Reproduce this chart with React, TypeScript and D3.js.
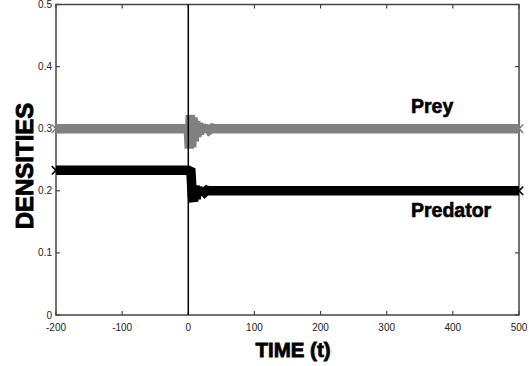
import React from 'react';
import * as d3 from 'd3';

const xTicks = [-200, -100, 0, 100, 200, 300, 400, 500];
const yTicks = [0, 0.1, 0.2, 0.3, 0.4, 0.5];
const yTickLabels = ['0', '0.1', '0.2', '0.3', '0.4', '0.5'];

const preyTime = [-200, 0, 1.5, 3, 5, 7, 9, 11, 13, 15, 17, 19, 21, 23, 26, 29, 32, 36, 40, 500];
const preyValues = [0.3, 0.3, 0.268, 0.322, 0.27, 0.318, 0.28, 0.312, 0.287, 0.309, 0.291, 0.307, 0.294, 0.305, 0.296, 0.303, 0.298, 0.301, 0.3, 0.3];

const predTime = [-200, 0, 4, 6, 8, 10, 12, 14, 16, 18, 20, 22, 25, 28, 32, 500];
const predValues = [0.233, 0.233, 0.231, 0.19, 0.183, 0.208, 0.187, 0.206, 0.193, 0.204, 0.196, 0.202, 0.198, 0.201, 0.2, 0.2];

const W = 529;
const H = 366;
const left = 56;
const right = 519;
const top = 4.5;
const bottom = 315;

export default function App() {
  const x = d3.scaleLinear().domain([-200, 500]).range([left, right]);
  const y = d3.scaleLinear().domain([0, 0.5]).range([bottom, top]);
  const line = d3.line<[number, number]>().x(d => x(d[0])).y(d => y(d[1]));

  const preyData: [number, number][] = preyTime.map((t, i) => [t, preyValues[i]]);
  const predData: [number, number][] = predTime.map((t, i) => [t, predValues[i]]);

  const marker = (d: [number, number], color: string, key: string) => {
    const cx = x(d[0]);
    const cy = y(d[1]);
    const s = 4.2;
    return (
      <path key={key} d={`M${cx - s},${cy - s}L${cx + s},${cy + s}M${cx - s},${cy + s}L${cx + s},${cy - s}`}
        stroke={color} strokeWidth={1.6} fill="none" />
    );
  };

  const ends = (data: [number, number][]) => [data[0], data[data.length - 1]];

  const axisColor = '#444';
  const font = '"Liberation Sans", Arial, Helvetica, sans-serif';

  return (
    <svg width={W} height={H} style={{ position: 'absolute', left: 0, top: 0, background: '#fff' }}>
      <rect x={0} y={0} width={W} height={H} fill="#fff" />
      {/* frame */}
      <rect x={left} y={top} width={right - left} height={bottom - top} fill="none" stroke={axisColor} strokeWidth={1.5} />
      {/* ticks */}
      {xTicks.map(t => (
        <g key={'xt' + t}>
          <line x1={x(t)} x2={x(t)} y1={bottom} y2={bottom - 4} stroke={axisColor} strokeWidth={1.2} />
          <line x1={x(t)} x2={x(t)} y1={top} y2={top + 4} stroke={axisColor} strokeWidth={1.2} />
          <text x={x(t)} y={bottom + 15.5} textAnchor="middle" fontFamily={font} fontSize={10} fill="#222">{t}</text>
        </g>
      ))}
      {yTicks.map((v, i) => (
        <g key={'yt' + v}>
          <line x1={left} x2={left + 4} y1={y(v)} y2={y(v)} stroke={axisColor} strokeWidth={1.2} />
          <line x1={right} x2={right - 4} y1={y(v)} y2={y(v)} stroke={axisColor} strokeWidth={1.2} />
          <text x={52} y={y(v) + 3.5} textAnchor="end" fontFamily={font} fontSize={10} fill="#222">{yTickLabels[i]}</text>
        </g>
      ))}
      {/* series */}
      <path d={line(preyData) || ''} fill="none" stroke="#808080" strokeWidth={9.5} strokeLinejoin="miter" strokeMiterlimit={2} />
      {ends(preyData).map((d, i) => marker(d, '#808080', 'pm' + i))}
      <path d={line(predData) || ''} fill="none" stroke="#000" strokeWidth={9.5} strokeLinejoin="miter" strokeMiterlimit={2} />
      {ends(predData).map((d, i) => marker(d, '#000', 'dm' + i))}
      {/* t = 0 vertical line */}
      <line x1={x(0)} x2={x(0)} y1={top} y2={bottom} stroke="#000" strokeWidth={1.5} />
      {/* labels */}
      <text x={411} y={113} fontFamily={font} fontWeight="bold" fontSize={19.5} fill="#000" stroke="#000" strokeWidth={0.6}>Prey</text>
      <text x={411} y={217} fontFamily={font} fontWeight="bold" fontSize={19.5} fill="#000" stroke="#000" strokeWidth={0.6}>Predator</text>
      <text x={293} y={357} textAnchor="middle" fontFamily={font} fontWeight="bold" fontSize={20.5} fill="#000" stroke="#000" strokeWidth={0.8}>TIME (t)</text>
      <text transform={`translate(32.5,166) rotate(-90)`} textAnchor="middle" fontFamily={font} fontWeight="bold" fontSize={24} fill="#000" stroke="#000" strokeWidth={0.9}>DENSITIES</text>
    </svg>
  );
}
